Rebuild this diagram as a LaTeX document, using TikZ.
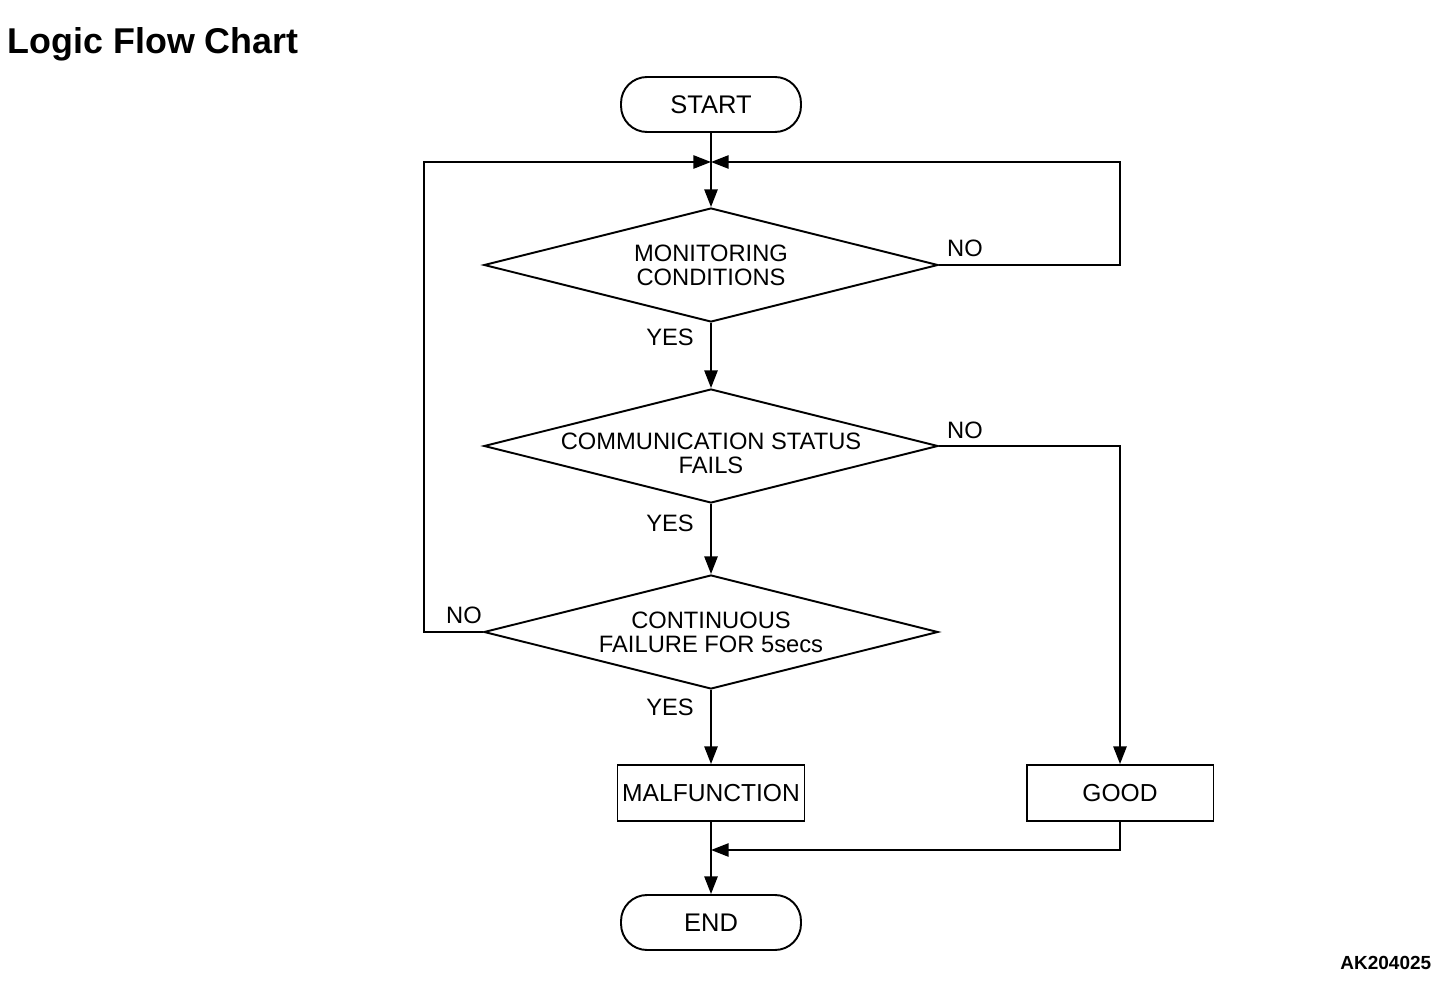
\documentclass[tikz,border=0pt]{standalone}
\usepackage{fontspec}
\setmainfont{Liberation Sans}
\usetikzlibrary{shapes.geometric,arrows.meta}

\begin{document}
\begin{tikzpicture}[x=0.02cm,y=-0.02cm,line width=1.1pt,
	txt/.style={font=\fontsize{13.5}{13.6}\selectfont},
	term/.style={draw,rounded corners=0.52cm,minimum width=3.6cm,minimum height=1.1cm,inner sep=0pt,font=\fontsize{14.5}{16}\selectfont},
	proc/.style={draw,minimum width=3.74cm,minimum height=1.12cm,inner sep=0pt,font=\fontsize{14}{16}\selectfont},
	decision/.style={draw,diamond,minimum width=9.08cm,minimum height=2.28cm,inner sep=0pt},
	arr/.style={-{Triangle[length=10pt,width=7.5pt]}}]
	\useasboundingbox (0,0) rectangle (1456,982);
	\node[anchor=base west,font=\fontsize{20.4}{24}\selectfont\bfseries] (title) at (1,54) {Logic Flow Chart};
	\node[anchor=base east,font=\fontsize{10.8}{12}\selectfont\bfseries] (code) at (1438,969) {AK204025};

	\node[term] (start) at (711,104.5) {START};
	\node[decision,label={[txt,align=center]center:MONITORING\\CONDITIONS}] (mon) at (711,265) {};
	\node[decision,label={[txt,align=center,yshift=-4pt]center:COMMUNICATION STATUS\\FAILS}] (comm) at (711,446) {};
	\node[decision,label={[txt,align=center]center:CONTINUOUS\\FAILURE FOR 5secs}] (cont) at (711,632) {};
	\node[proc] (malf) at (711,793) {MALFUNCTION};
	\node[proc] (good) at (1120,793) {GOOD};
	\node[term] (stop) at (711,922.5) {END};

	\coordinate (join) at (711,162);
	\coordinate (merge) at (711,850);
	\coordinate (rloop) at (1120,162);
	\coordinate (lloop) at (424,162);

	\draw[arr] (start) -- (mon);
	\draw[arr] (mon.east) -| (rloop) -- (join);
	\draw[arr] (cont.west) -| (lloop) -- (join);
	\draw[arr] (mon) -- (comm);
	\draw[arr] (comm) -- (cont);
	\draw[arr] (comm.east) -| (good);
	\draw[arr] (cont) -- (malf);
	\draw[arr] (malf) -- (stop);
	\draw[arr] (good) |- (merge);

	\node[txt] (yes1) at (670,337) {YES};
	\node[txt] (yes2) at (670,523) {YES};
	\node[txt] (yes3) at (670,707) {YES};
	\node[txt] (no1) at (965,248) {NO};
	\node[txt] (no2) at (965,430) {NO};
	\node[txt] (no3) at (464,615) {NO};
\end{tikzpicture}
\end{document}
